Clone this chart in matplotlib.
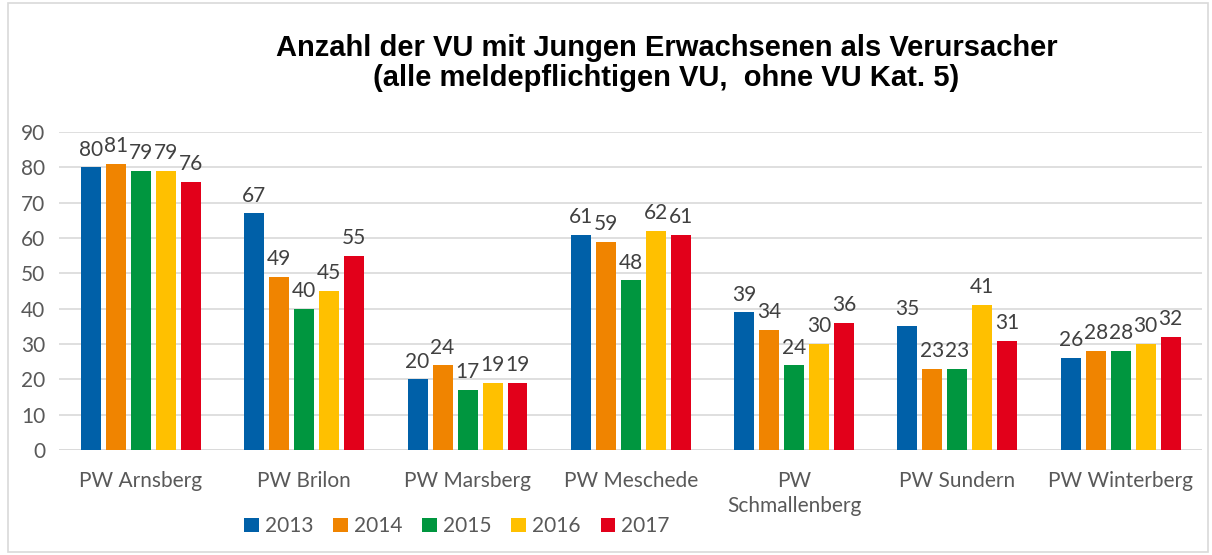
import numpy as np
import matplotlib.pyplot as plt
from matplotlib.patches import Rectangle

categories = ["PW Arnsberg", "PW Brilon", "PW Marsberg", "PW Meschede",
              "PW\nSchmallenberg", "PW Sundern", "PW Winterberg"]
years = ["2013", "2014", "2015", "2016", "2017"]
v2013 = [80, 67, 20, 61, 39, 35, 26]
v2014 = [81, 49, 24, 59, 34, 23, 28]
v2015 = [79, 40, 17, 48, 24, 23, 28]
v2016 = [79, 45, 19, 62, 30, 41, 30]
v2017 = [76, 55, 19, 61, 36, 31, 32]
colors = ["#0060A8", "#F08400", "#00963F", "#FFC000", "#E2001A"]

series = [v2013, v2014, v2015, v2016, v2017]
plt.rcParams['font.family'] = ['Lato', 'DejaVu Sans']
text_col = "#595959"

fig = plt.figure(figsize=(12.12, 5.55), dpi=100)
ax = fig.add_axes([0.049, 0.189, 0.943, 0.573])

x = np.arange(len(categories))
width = 0.122
pitch = 0.153
for i, (vals, col, yr) in enumerate(zip(series, colors, years)):
    pos = x + (i - 2) * pitch
    ax.bar(pos, vals, width, color=col, label=yr, zorder=3)
    for p, v in zip(pos, vals):
        ax.text(p, v + 2.2, str(v), ha='center', va='bottom',
                fontsize=15, color="#404040")

ax.set_xlim(-0.5, 6.5)
ax.set_ylim(0, 90)
ax.set_yticks(range(0, 91, 10))
ax.grid(axis='y', color='#D9D9D9', linewidth=1.2, zorder=0)
for s in ax.spines.values():
    s.set_visible(False)
ax.axhline(0, color='#D9D9D9', linewidth=1.2, zorder=2)
ax.set_xticks(x)
ax.set_xticklabels(categories, fontsize=15, color=text_col, linespacing=1.3)
ax.tick_params(axis='y', labelsize=15, labelcolor=text_col, length=0, pad=10)
ax.tick_params(axis='x', length=0, pad=15)

fig.text(0.55, 0.887, "Anzahl der VU mit Jungen Erwachsenen als Verursacher\n"
         "(alle meldepflichtigen VU,  ohne VU Kat. 5)",
         ha='center', va='center', fontsize=21, fontweight='bold',
         family='Liberation Sans', linespacing=1.1)

fig.legend(loc='center', bbox_to_anchor=(0.377, 0.052), ncol=5, frameon=False,
           fontsize=15, labelcolor=text_col, handlelength=0.7, handleheight=0.7,
           handletextpad=0.3, columnspacing=0.95)

fig.patches.append(Rectangle((0.007, 0.005), 0.99, 0.99, transform=fig.transFigure,
                             fill=False, edgecolor='#D9D9D9', linewidth=1.2))

fig.savefig("out.png", dpi=100)
